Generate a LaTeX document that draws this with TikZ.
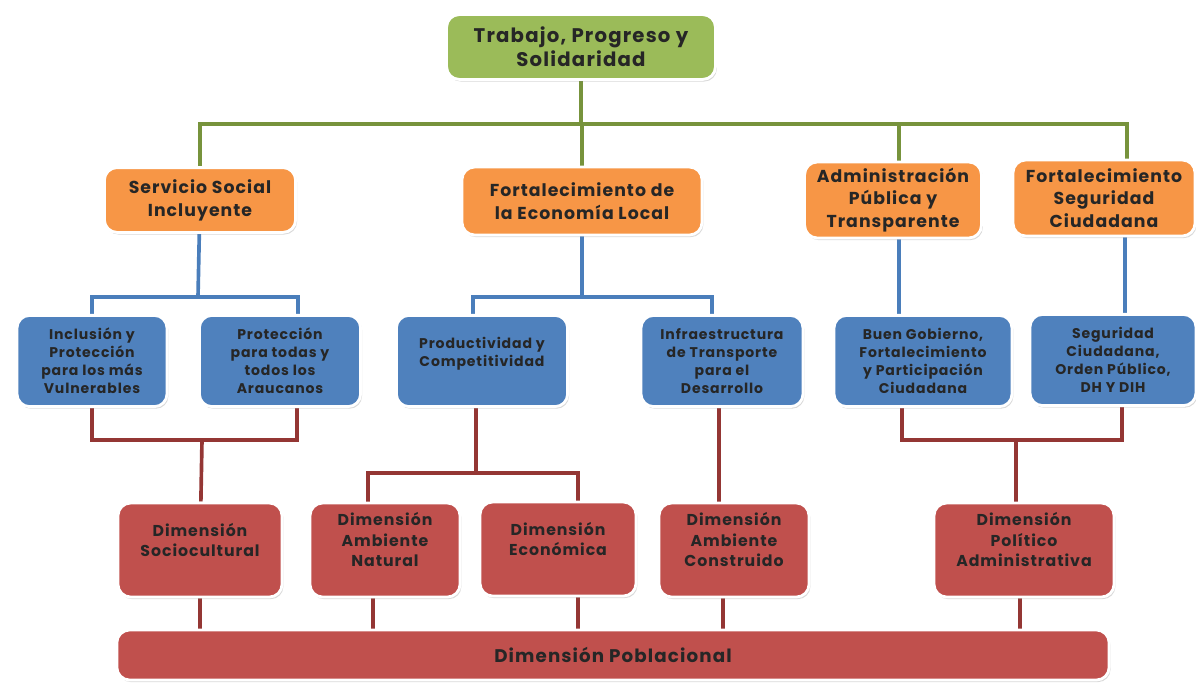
\documentclass[tikz,border=0pt]{standalone}
\usepackage{fontspec}
\setmainfont{Poppins}[LetterSpace=6]
\usetikzlibrary{positioning,shadows,calc,backgrounds}
\definecolor{verde}{HTML}{9BBB59}
\definecolor{verdeosc}{HTML}{77933C}
\definecolor{naranja}{HTML}{F79646}
\definecolor{azul}{HTML}{4F81BD}
\definecolor{azullin}{HTML}{4A7EBB}
\definecolor{rojo}{HTML}{C0504D}
\definecolor{rojolin}{HTML}{943634}
\tikzstyle{caja} = [rectangle,
                    rounded corners=9pt,
                    align = center,
                    draw=white,
                    line width=2pt,
                    text=black!85,
                    drop shadow={opacity=0.3, shadow xshift=1pt, shadow yshift=-1.5pt}]
\tikzstyle{eje} = [caja, fill=verde, font=\bfseries\fontsize{14}{17}\selectfont]
\tikzstyle{programa} = [caja, fill=naranja, font=\bfseries\fontsize{12.3}{16.2}\selectfont]
\tikzstyle{sector} = [caja, fill=azul, minimum height=2.28cm, font=\bfseries\fontsize{10}{12.8}\selectfont]
\tikzstyle{dimension} = [caja, fill=rojo, minimum height=2.35cm, font=\bfseries\fontsize{11.2}{14.6}\selectfont]
\tikzstyle{linea} = [line width=2.6pt]
\tikzstyle{control} = [x=0.025cm, y=-0.025cm]

\begin{document}
\begin{tikzpicture}[control]
    \useasboundingbox (0,0) rectangle (1196,684);
    % eje
    \node (top) at (581,47) [eje, minimum width=6.72cm, minimum height=1.62cm] {Trabajo, Progreso y\\Solidaridad};
    % programas
    \node (ssi) at (200,200) [programa, minimum width=4.78cm, minimum height=1.62cm] {Servicio Social\\Incluyente};
    \node (eco) at (582,201) [programa, minimum width=6cm, minimum height=1.7cm] {Fortalecimiento de\\la Economía Local};
    \node (adm) at (893,200) [programa, minimum width=4.42cm, minimum height=1.9cm] {Administración\\Pública y\\Transparente};
    \node (seg) at (1104,198) [programa, minimum width=4.55cm, minimum height=1.9cm] {Fortalecimiento\\Seguridad\\Ciudadana};
    % sectores
    \node (inc) at (92,361) [sector, minimum width=3.75cm] {Inclusión y\\Protección\\para los más\\Vulnerables};
    \node (pro) at (280,361) [sector, minimum width=4.03cm] {Protección\\para todas y\\todos los\\Araucanos};
    \node (prd) at (482,361) [sector, minimum width=4.28cm] {Productividad y\\Competitividad\\\mbox{}};
    \node (inf) at (722,361) [sector, minimum width=4.05cm] {Infraestructura\\de Transporte\\para el\\Desarrollo};
    \node (bgo) at (923,361) [sector, minimum width=4.45cm] {Buen Gobierno,\\Fortalecimiento\\y Participación\\Ciudadana};
    \node (scd) at (1113,360) [sector, minimum width=4.15cm] {Seguridad\\Ciudadana,\\Orden Público,\\DH Y DIH};
    % dimensiones
    \node (soc) at (200,550) [dimension, minimum width=4.1cm] {Dimensión\\Sociocultural\\\mbox{}};
    \node (nat) at (385,550) [dimension, minimum width=3.75cm] {Dimensión\\Ambiente\\Natural\\\mbox{}};
    \node (ecn) at (558,549) [dimension, minimum width=3.9cm] {Dimensión\\Económica\\\mbox{}};
    \node (con) at (734,550) [dimension, minimum width=3.75cm] {Dimensión\\Ambiente\\Construido\\\mbox{}};
    \node (pol) at (1024,550) [dimension, minimum width=4.5cm] {Dimensión\\Político\\Administrativa\\\mbox{}};
    \node (pob) at (613,655) [dimension, minimum width=24.8cm, minimum height=1.25cm, font=\bfseries\fontsize{13}{15}\selectfont] {Dimensión Poblacional};

    \begin{scope}[on background layer]
      % verde
      \coordinate (gbus) at (581,124);
      \draw[linea, verdeosc] (top) -- (gbus);
      \draw[linea, verdeosc] (gbus) -| (ssi);
      \draw[linea, verdeosc] (gbus) -| (eco);
      \draw[linea, verdeosc] (gbus) -| ($(adm.north)+(6,0)$);
      \draw[linea, verdeosc] (gbus) -| ($(seg.north)+(23,0)$);
      % azul
      \coordinate (sbus) at (198,297);
      \coordinate (ebus) at (582,297);
      \draw[linea, azullin] (ssi) -- (sbus);
      \draw[linea, azullin] (sbus) -| (inc);
      \draw[linea, azullin] (sbus) -| ($(pro.north)+(18,0)$);
      \draw[linea, azullin] (eco) -- (ebus);
      \draw[linea, azullin] (ebus) -| ($(prd.north)+(-9,0)$);
      \draw[linea, azullin] (ebus) -| ($(inf.north)+(-10,0)$);
      \draw[linea, azullin] ($(adm.south)+(6,0)$) -- ($(bgo.north)+(-24,0)$);
      \draw[linea, azullin] ($(seg.south)+(21,0)$) -- ($(scd.north)+(12,0)$);
      % rojo
      \coordinate (rbus1) at (202,440);
      \coordinate (rbus2) at (476,473);
      \coordinate (rbus3) at (1016,440);
      \draw[linea, rojolin] (inc) |- (rbus1);
      \draw[linea, rojolin] ($(pro.south)+(17,0)$) |- (rbus1);
      \draw[linea, rojolin] (rbus1) -- (soc);
      \draw[linea, rojolin] ($(prd.south)+(-6,0)$) -- (rbus2);
      \draw[linea, rojolin] (rbus2) -| ($(nat.north)+(-17,0)$);
      \draw[linea, rojolin] (rbus2) -| ($(ecn.north)+(20,0)$);
      \draw[linea, rojolin] ($(inf.south)+(-3,0)$) -- ($(con.north)+(-15,0)$);
      \draw[linea, rojolin] ($(bgo.south)+(-21,0)$) |- (rbus3);
      \draw[linea, rojolin] ($(scd.south)+(9,0)$) |- (rbus3);
      \draw[linea, rojolin] (rbus3) -- ($(pol.north)+(-8,0)$);
      \coordinate (p1) at (soc.south);
      \coordinate (p2) at ($(nat.south)+(-12,0)$);
      \coordinate (p3) at ($(ecn.south)+(20,0)$);
      \coordinate (p4) at ($(con.south)+(-11,0)$);
      \coordinate (p5) at ($(pol.south)+(-4,0)$);
      \foreach \p in {p1,p2,p3,p4,p5}
        \draw[linea, rojolin] (\p) -- (\p |- pob.north);
    \end{scope}
  \end{tikzpicture}
\end{document}
